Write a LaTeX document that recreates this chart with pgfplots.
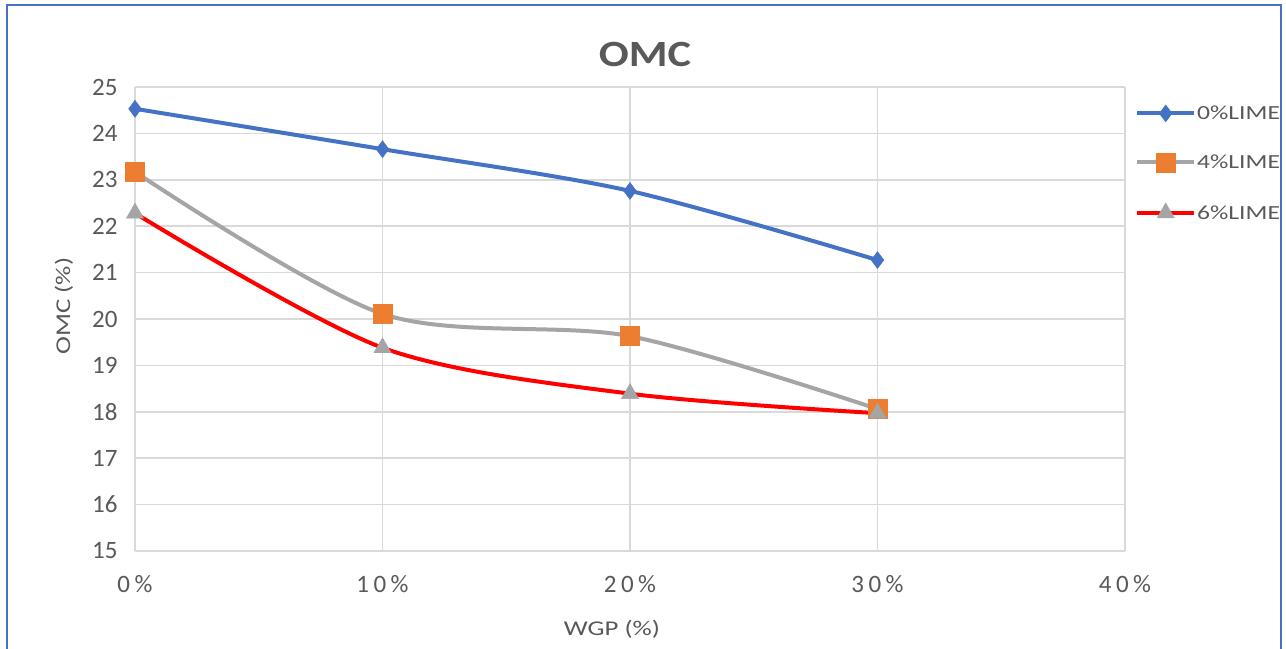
\documentclass[border=0pt]{standalone}
\usepackage{pgfplots}
\pgfplotsset{compat=1.18}
\usepackage{fontspec}
\setmainfont{Carlito}
\newfontfamily\widef{Carlito}[FakeStretch=1.28]
\newfontfamily\tickf{Carlito}[LetterSpace=18]
\newfontfamily\titlef{Carlito}[FakeStretch=1.2]
\definecolor{cblue}{HTML}{4472C4}
\definecolor{corange}{HTML}{ED7D31}
\definecolor{cgray}{HTML}{A5A5A5}
\definecolor{cred}{HTML}{FF0000}
\definecolor{ctext}{HTML}{595959}
\definecolor{cgrid}{HTML}{D9D9D9}
\definecolor{cborder}{HTML}{4A70C4}
\begin{document}
\begin{tikzpicture}[x=1bp,y=1bp]
\path[use as bounding box] (-135,-98) rectangle (1151,551);
\fill[white] (-135,-98) rectangle (1151,551);
\begin{axis}[
  scale only axis,
  width=990bp, height=464bp,
  xmin=0, xmax=40, ymin=15, ymax=25,
  xtick={0,10,20,30,40},
  xticklabels={0\%,10\%,20\%,30\%,40\%},
  ytick={15,16,...,25},
  yticklabels={15,16,17,18,19,20,21,22,23,24,25},
  axis line style={draw=none},
  major tick length=0pt,
  grid=major,
  grid style={cgrid, line width=1.6bp},
  x tick label style={font=\fontsize{25bp}{28bp}\tickf, text=ctext, yshift=-21bp},
  y tick label style={font=\fontsize{25bp}{28bp}\selectfont, text=ctext, xshift=-14bp},
  legend style={at={(1.0101,0.962)}, anchor=north west, draw=none, fill=none,
    inner sep=0pt, font=\fontsize{20bp}{24bp}\widef, text=ctext,
    row sep=31bp, nodes={inner sep=1bp}},
  legend cell align=left,
  legend image code/.code={%
    \draw[mark repeat=2,mark phase=2] plot coordinates {(0bp,0bp)(28.5bp,0bp)(57bp,0bp)};},
  clip=false,
]
\addplot[cblue, line width=4bp, smooth, mark=diamond*, mark size=8.5bp,
  mark options={solid, fill=cblue, draw=cblue, line width=0.4bp}]
  coordinates {(0,24.53) (10,23.66) (20,22.76) (30,21.27)};
\addlegendentry{0\%LIME}
\addplot[cgray, line width=4bp, smooth, mark=square*, mark size=9.5bp,
  mark options={solid, fill=corange, draw=corange, line width=0.4bp}]
  coordinates {(0,23.17) (10,20.11) (20,19.63) (30,18.06)};
\addlegendentry{4\%LIME}
\addplot[cred, line width=4bp, smooth, mark=triangle*, mark size=10bp,
  mark options={solid, fill=cgray, draw=cgray, line width=0.4bp}]
  coordinates {(0,22.28) (10,19.38) (20,18.39) (30,17.97)};
\addlegendentry{6\%LIME}
\end{axis}
\node[anchor=base, text=ctext, font=\fontsize{37bp}{40bp}\titlef\bfseries] at (510,484) {OMC};
\node[anchor=base, text=ctext, font=\fontsize{21bp}{24bp}\widef] at (477,-85) {WGP (\%)};
\node[rotate=90, anchor=center, text=ctext, font=\fontsize{21bp}{24bp}\widef] at (-71,245) {OMC (\%)};
\draw[cborder, line width=2bp] (-128,-98) -- (-128,546) -- (1146,546) -- (1146,-98);
\end{tikzpicture}
\end{document}
